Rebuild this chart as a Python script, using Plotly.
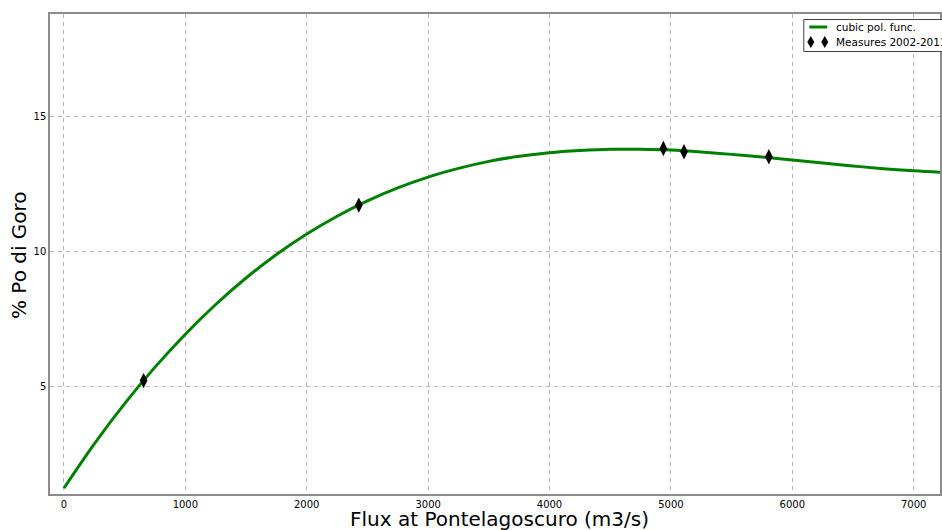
import plotly.graph_objects as go

# Fitted cubic curve, sampled every 250 m3/s
flux_curve = [0, 250, 500, 750, 1000, 1250, 1500, 1750, 2000, 2250, 2500, 2750,
              3000, 3250, 3500, 3750, 4000, 4250, 4500, 4750, 5000, 5250, 5500,
              5750, 6000, 6250, 6500, 6750, 7000, 7250]
pct_curve = [1.22, 2.86, 4.35, 5.70, 6.92, 8.02, 9.00, 9.87, 10.63, 11.29, 11.86,
             12.34, 12.74, 13.06, 13.32, 13.51, 13.64, 13.72, 13.77, 13.77, 13.74,
             13.67, 13.58, 13.48, 13.37, 13.26, 13.15, 13.05, 12.97, 12.91]

# Measurements 2002-2011
flux_meas = [656, 2429, 4938, 5108, 5807]
pct_meas = [5.20, 11.70, 13.80, 13.68, 13.49]

x_ticks = [0, 1000, 2000, 3000, 4000, 5000, 6000, 7000]
y_ticks = [5, 10, 15]

GREEN = "#008000"
GRID = "#b8b8b8"
FRAME = "#8c8c8c"
FONT = "DejaVu Sans"

fig = go.Figure()
fig.add_trace(go.Scatter(
    x=flux_curve, y=pct_curve, mode="lines", line_shape="spline",
    line=dict(color=GREEN, width=3), name="cubic pol. func.", showlegend=False,
))
fig.add_trace(go.Scatter(
    x=flux_meas, y=pct_meas, mode="markers",
    marker=dict(symbol="diamond-tall", color="black", size=11,
                line=dict(width=0)),
    name="Measures 2002-2011", showlegend=False,
))

W, H = 942, 530
L, R, T, B = 50, 0, 14, 36
pw, ph = W - L - R, H - T - B


def px(x):
    return (x - L) / pw


def py(y):
    return (H - B - y) / ph


shapes = [
    # legend frame
    dict(type="rect", xref="paper", yref="paper",
         x0=px(805.5), x1=px(1000), y0=py(51.5), y1=py(19.5),
         line=dict(color="#444444", width=1), fillcolor="white", layer="above"),
    # legend line sample
    dict(type="line", xref="paper", yref="paper",
         x0=px(811), x1=px(829), y0=py(27), y1=py(27),
         line=dict(color=GREEN, width=3), layer="above"),
]
# legend diamonds
for cx in (812.5, 826.5):
    cy = 42
    path = (f"M {px(cx)} {py(cy - 6)} L {px(cx + 3.5)} {py(cy)} "
            f"L {px(cx)} {py(cy + 6)} L {px(cx - 3.5)} {py(cy)} Z")
    shapes.append(dict(type="path", xref="paper", yref="paper", path=path,
                       fillcolor="black", line=dict(width=0), layer="above"))

annotations = [
    dict(text="cubic pol. func.", xref="paper", yref="paper",
         x=px(836), y=py(27), xanchor="left", yanchor="middle", showarrow=False,
         font=dict(family=FONT, size=10.5, color="black")),
    dict(text="Measures 2002-2011", xref="paper", yref="paper",
         x=px(836), y=py(42), xanchor="left", yanchor="middle", showarrow=False,
         font=dict(family=FONT, size=10.5, color="black")),
    dict(text="Flux at Pontelagoscuro (m3/s)", xref="paper", yref="paper",
         x=px(501), y=py(519), xanchor="center", yanchor="middle", showarrow=False,
         font=dict(family=FONT, size=20, color="black")),
    dict(text="% Po di Goro", xref="paper", yref="paper", textangle=-90,
         x=px(19), y=py(255), xanchor="center", yanchor="middle", showarrow=False,
         font=dict(family=FONT, size=20, color="black")),
]

axis_common = dict(
    showgrid=True, gridcolor=GRID, gridwidth=1, griddash="4px,4px",
    zeroline=False, showline=True, linecolor=FRAME, linewidth=1.5, mirror=True,
    ticks="", tickfont=dict(family=FONT, size=10, color="black"),
)

fig.update_layout(
    width=W, height=H,
    margin=dict(l=L, r=R, t=T, b=B),
    paper_bgcolor="white", plot_bgcolor="white",
    xaxis=dict(range=[-115, 7217], tickvals=x_ticks,
               ticktext=[str(v) for v in x_ticks], **axis_common),
    yaxis=dict(range=[1.0, 18.78], tickvals=y_ticks,
               ticktext=[str(v) for v in y_ticks], **axis_common),
    shapes=shapes, annotations=annotations,
    showlegend=False,
)

fig.write_html("out.html")
